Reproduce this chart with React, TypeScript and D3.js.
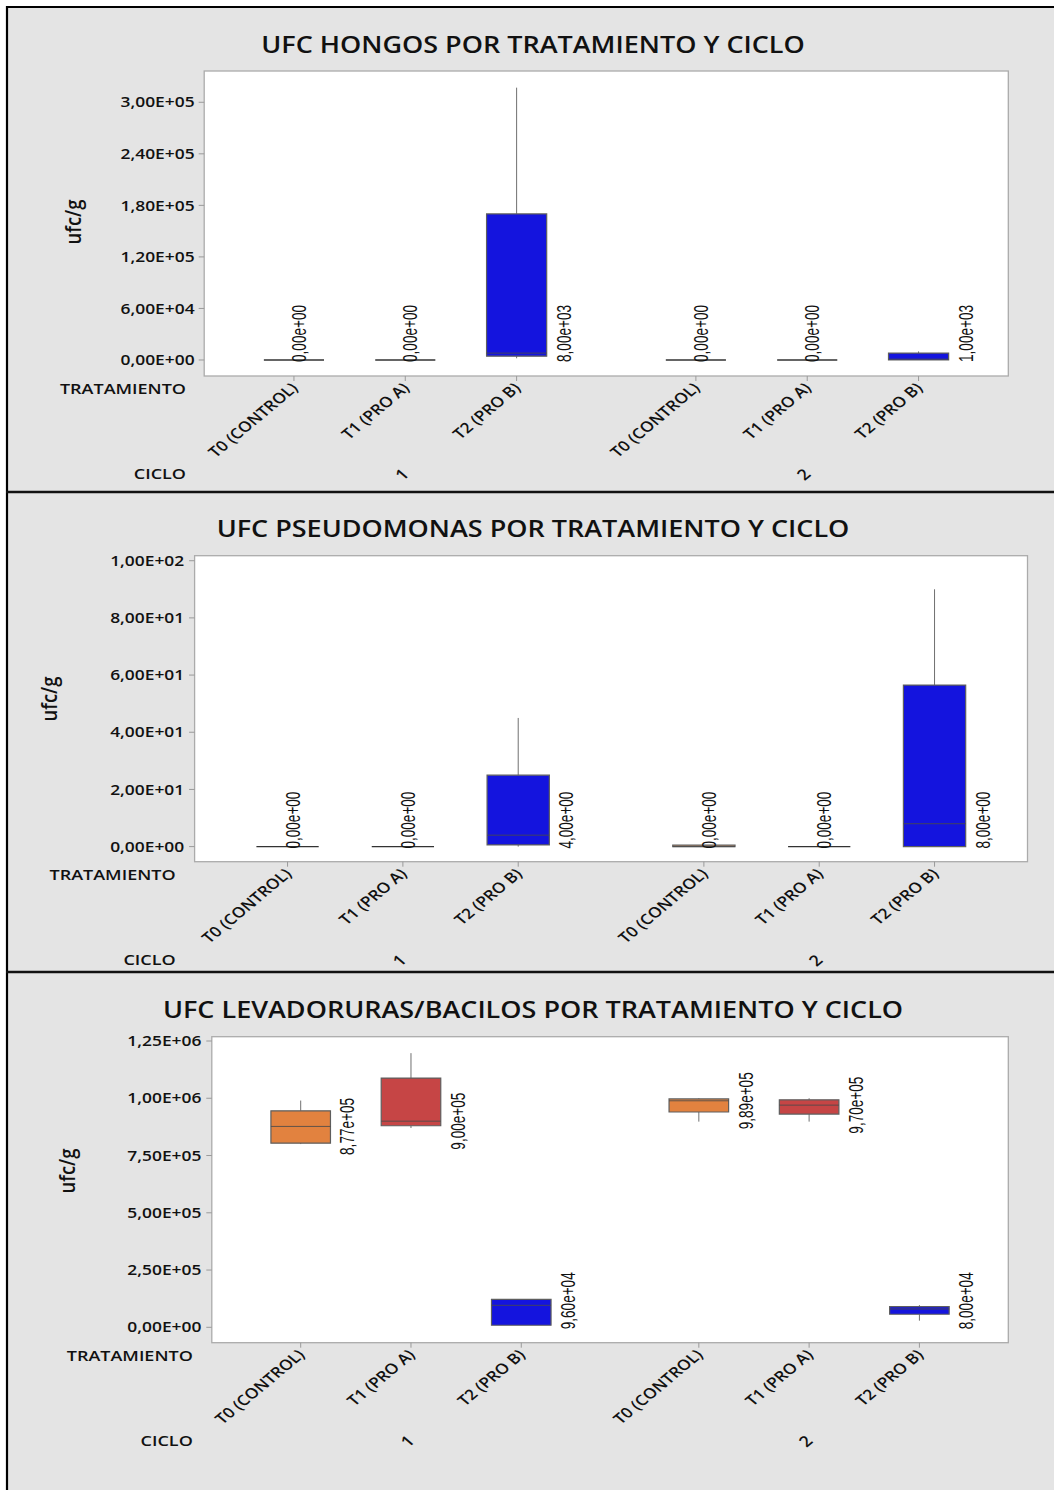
import React from "react";
import * as d3 from "d3";

// Treatments and cycles shared by the three panels
const TREATMENTS = ["T0 (CONTROL)", "T1 (PRO A)", "T2 (PRO B)"];
const CYCLES = ["1", "2"];
const TREATMENT_COLORS = ["#E2823F", "#C64545", "#1414DE"];

// Box summaries [min, Q1, median, Q3, max], ordered cycle 1 (T0,T1,T2) then cycle 2 (T0,T1,T2)
const HONGOS_STATS = [
  [0, 0, 0, 0, 0],
  [0, 0, 0, 0, 0],
  [2000, 4500, 8000, 170000, 317000],
  [0, 0, 0, 0, 0],
  [0, 0, 0, 0, 0],
  [0, 0, 1000, 8000, 10000],
];
const HONGOS_TICKS = [0, 60000, 120000, 180000, 240000, 300000];
const HONGOS_DOMAIN = [-18630, 336400];

const PSEUDO_STATS = [
  [0, 0, 0, 0, 0],
  [0, 0, 0, 0, 0],
  [0, 0.6, 4, 25, 45],
  [0, 0, 0, 0.5, 0.5],
  [0, 0, 0, 0, 0],
  [0, 0, 8, 56.5, 90],
];
const PSEUDO_TICKS = [0, 20, 40, 60, 80, 100];
const PSEUDO_DOMAIN = [-5.28, 101.75];

const LEVAD_STATS = [
  [800000, 804000, 877000, 945000, 990000],
  [870000, 880000, 900000, 1088000, 1197000],
  [9000, 9000, 96000, 122000, 122000],
  [898000, 940000, 989000, 997000, 1000000],
  [898000, 931000, 970000, 993000, 1000000],
  [29000, 57000, 80000, 90000, 97000],
];
const LEVAD_TICKS = [0, 250000, 500000, 750000, 1000000, 1250000];
const LEVAD_DOMAIN = [-67240, 1268800];

const TITLES = [
  "UFC HONGOS POR TRATAMIENTO Y CICLO",
  "UFC PSEUDOMONAS POR TRATAMIENTO Y CICLO",
  "UFC LEVADORURAS/BACILOS POR TRATAMIENTO Y CICLO",
];
const Y_TITLE = "ufc/g";
const X_TITLE_TREAT = "TRATAMIENTO";
const X_TITLE_CYCLE = "CICLO";

const W = 1054;
const H = 1490;
const SX = 1.2; // horizontal stretch of the text
const GROUP_GAP = 0.61;
const BOX_W = 0.54;
const X_DOMAIN = [-0.806, 6.416];
const UI_FONT = "'Open Sans', 'Noto Sans', sans-serif";
const LABEL_FONT = "'Liberation Sans', Arial, sans-serif";

function sci(v: number, upper: boolean) {
  const s = d3.format(".2e")(v);
  const [m, e] = s.split("e");
  const sign = e[0] === "-" ? "-" : "+";
  const digits = e.replace(/[+-]/, "").padStart(2, "0");
  return m.replace(".", ",") + (upper ? "E" : "e") + sign + digits;
}

type PanelCfg = {
  title: string;
  stats: number[][];
  ticks: number[];
  domain: number[];
  top: number;
  bottom: number;
  plot: { l: number; r: number; t: number; b: number };
  titleY: number;
  yTitleX: number;
  yTitleY: number;
  tickRight: number;
  xTitleRight: number;
  treatY: number;
  cycleY: number;
};

const PANELS: PanelCfg[] = [
  {
    title: TITLES[0], stats: HONGOS_STATS, ticks: HONGOS_TICKS, domain: HONGOS_DOMAIN,
    top: 7, bottom: 492,
    plot: { l: 204.2, r: 1008.3, t: 71, b: 376 },
    titleY: 52.7, yTitleX: 81, yTitleY: 222, tickRight: 194.6,
    xTitleRight: 186, treatY: 393.5, cycleY: 479,
  },
  {
    title: TITLES[1], stats: PSEUDO_STATS, ticks: PSEUDO_TICKS, domain: PSEUDO_DOMAIN,
    top: 492, bottom: 972,
    plot: { l: 194.6, r: 1027.5, t: 555.7, b: 861.7 },
    titleY: 536.7, yTitleX: 57, yTitleY: 699, tickRight: 184.2,
    xTitleRight: 175.6, treatY: 880, cycleY: 965,
  },
  {
    title: TITLES[2], stats: LEVAD_STATS, ticks: LEVAD_TICKS, domain: LEVAD_DOMAIN,
    top: 972, bottom: H,
    plot: { l: 211.8, r: 1008.3, t: 1036.7, b: 1342.7 },
    titleY: 1018.3, yTitleX: 75, yTitleY: 1171, tickRight: 201.4,
    xTitleRight: 192.8, treatY: 1360.7, cycleY: 1445.7,
  },
];

function Panel({ cfg }: { cfg: PanelCfg }) {
  const { plot } = cfg;
  const x = d3.scaleLinear().domain(X_DOMAIN).range([plot.l, plot.r]);
  const y = d3.scaleLinear().domain(cfg.domain).range([plot.b, plot.t]);
  const unit = x(1) - x(0);
  const half = (BOX_W * unit) / 2;

  const items = CYCLES.flatMap((c, ci) =>
    TREATMENTS.map((t, ti) => ({
      ci,
      ti,
      pos: ci * (TREATMENTS.length + GROUP_GAP) + ti,
      s: cfg.stats[ci * TREATMENTS.length + ti],
    }))
  );

  const y0 = y(0);
  const labelLen = 57;
  const halfLen = labelLen / 2;

  return (
    <g>
      <rect x={7} y={cfg.top} width={W - 7} height={cfg.bottom - cfg.top} fill="#E4E4E4" />
      <text
        transform={`translate(533,${cfg.titleY}) scale(${SX},1)`}
        textAnchor="middle"
        fontFamily={UI_FONT}
        fontWeight={600}
        fontSize={22.5}
        fill="#111"
      >
        {cfg.title}
      </text>
      <rect
        x={plot.l}
        y={plot.t}
        width={plot.r - plot.l}
        height={plot.b - plot.t}
        fill="#fff"
        stroke="#ABABAB"
        strokeWidth={1.3}
      />
      {/* y axis */}
      {cfg.ticks.map((v) => (
        <g key={v}>
          <line x1={plot.l - 5.5} x2={plot.l} y1={y(v)} y2={y(v)} stroke="#9A9A9A" strokeWidth={1} />
          <text
            transform={`translate(${cfg.tickRight},${y(v) + 5.2}) scale(${SX},1)`}
            textAnchor="end"
            fontFamily={UI_FONT}
            fontWeight={600}
            fontSize={14.5}
            fill="#111"
          >
            {sci(v, true)}
          </text>
        </g>
      ))}
      <text
        transform={`translate(${cfg.yTitleX},${cfg.yTitleY}) scale(${SX},1) rotate(-90)`}
        textAnchor="middle"
        fontFamily={UI_FONT}
        fontWeight={600}
        fontSize={18.5}
        fill="#111"
      >
        {Y_TITLE}
      </text>
      {/* x axis */}
      {items.map((d) => (
        <g key={`xt${d.pos}`}>
          <line x1={x(d.pos)} x2={x(d.pos)} y1={plot.b} y2={plot.b + 5} stroke="#9A9A9A" strokeWidth={1} />
          <text
            transform={`translate(${x(d.pos) + 5},${plot.b + 13}) scale(${SX},1) rotate(-45)`}
            textAnchor="end"
            fontFamily={UI_FONT}
            fontWeight={600}
            fontSize={14.5}
            fill="#111"
          >
            {TREATMENTS[d.ti]}
          </text>
        </g>
      ))}
      <text
        transform={`translate(${cfg.xTitleRight},${cfg.treatY}) scale(${SX},1)`}
        textAnchor="end"
        fontFamily={UI_FONT}
        fontWeight={600}
        fontSize={15}
        fill="#111"
      >
        {X_TITLE_TREAT}
      </text>
      <text
        transform={`translate(${cfg.xTitleRight},${cfg.cycleY}) scale(${SX},1)`}
        textAnchor="end"
        fontFamily={UI_FONT}
        fontWeight={600}
        fontSize={15}
        fill="#111"
      >
        {X_TITLE_CYCLE}
      </text>
      {CYCLES.map((c, ci) => {
        const mid = x(ci * (TREATMENTS.length + GROUP_GAP) + (TREATMENTS.length - 1) / 2);
        return (
          <text
            key={c}
            transform={`translate(${mid - 4},${cfg.cycleY - 5}) scale(${SX},1) rotate(-45)`}
            textAnchor="middle"
            dominantBaseline="central"
            fontFamily={UI_FONT}
            fontWeight={600}
            fontSize={15}
            fill="#111"
          >
            {c}
          </text>
        );
      })}
      {/* boxes */}
      {items.map((d) => {
        const [mn, q1, md, q3, mx] = d.s;
        const cx = x(d.pos);
        const yq1 = y(q1);
        const yq3 = y(q3);
        const flat = Math.abs(yq1 - yq3) < 3;
        const flatZero = yq1 - yq3 < 0.5;
        const path = `M${cx - half},${yq3}H${cx + half}V${yq1}H${cx - half}Z`;
        const labelX = flat ? cx + 12 : cx + half + 24;
        const labelY = Math.min(y(md), y0 + 2 - halfLen);
        return (
          <g key={`b${d.pos}`}>
            {mx > q3 && <line x1={cx} x2={cx} y1={y(mx)} y2={yq3} stroke="#707070" strokeWidth={1} />}
            {mn < q1 && <line x1={cx} x2={cx} y1={yq1} y2={y(mn)} stroke="#707070" strokeWidth={1} />}
            <path
              d={path}
              fill={flatZero ? "none" : TREATMENT_COLORS[d.ti]}
              stroke={flatZero ? "#333" : "#5E5E5E"}
              strokeWidth={flatZero ? 1.3 : 1.2}
            />
            {!flatZero && (
              <line
                x1={cx - half}
                x2={cx + half}
                y1={y(md)}
                y2={y(md)}
                stroke="#4A4A4A"
                strokeOpacity={0.85}
                strokeWidth={1}
              />
            )}
            <text
              transform={`translate(${labelX},${labelY}) scale(${SX},1) rotate(-90)`}
              textAnchor="middle"
              fontFamily={LABEL_FONT}
              fontSize={16.3}
              textLength={labelLen}
              lengthAdjust="spacingAndGlyphs"
              fill="#111"
            >
              {sci(md, false)}
            </text>
          </g>
        );
      })}
    </g>
  );
}

export default function App() {
  return (
    <svg
      width={W}
      height={H}
      viewBox={`0 0 ${W} ${H}`}
      style={{ position: "absolute", left: 0, top: 0, background: "#fff" }}
    >
      {PANELS.map((p, i) => (
        <Panel key={i} cfg={p} />
      ))}
      {/* frame and separators */}
      <line x1={7} x2={7} y1={6} y2={H} stroke="#000" strokeWidth={2.2} />
      <line x1={6} x2={W} y1={7} y2={7} stroke="#000" strokeWidth={2.2} />
      <line x1={6} x2={W} y1={492} y2={492} stroke="#111" strokeWidth={2.6} />
      <line x1={6} x2={W} y1={972} y2={972} stroke="#111" strokeWidth={2.6} />
    </svg>
  );
}
